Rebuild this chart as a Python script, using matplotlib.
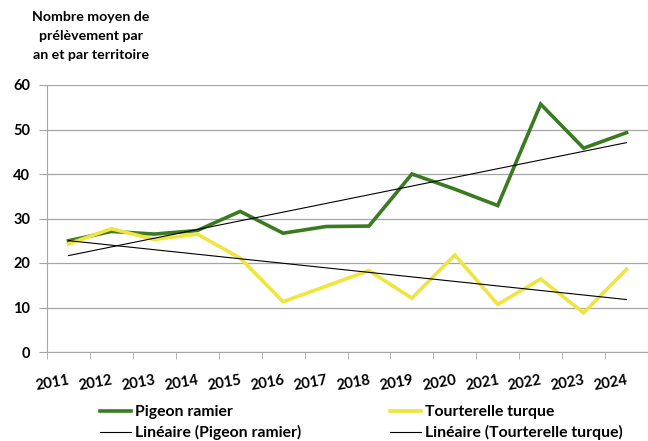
import matplotlib
matplotlib.use("Agg")
import matplotlib.pyplot as plt
import numpy as np
from matplotlib.lines import Line2D

plt.rcParams['font.family'] = ['Lato', 'DejaVu Sans']
plt.rcParams['font.weight'] = 'bold'

years = ['2011', '2012', '2013', '2014', '2015', '2016', '2017', '2018',
         '2019', '2020', '2021', '2022', '2023', '2024']
pigeon = [25.0, 27.1, 26.5, 27.3, 31.6, 26.7, 28.2, 28.3, 40.0, 36.6, 32.9, 55.7, 45.8, 49.3]
tourterelle = [24.3, 27.7, 25.3, 26.5, 21.1, 11.3, 14.8, 18.3, 12.1, 21.8, 10.7, 16.4, 8.8, 18.6]
y_ticks = [0, 10, 20, 30, 40, 50, 60]

green = '#3a7a20'
yellow = '#f0e43e'
grid_c = '#a6a6a6'

fig = plt.figure(figsize=(6.48, 4.41), dpi=100)
ax = fig.add_axes([47/648, 1-352/441, 601/648, (352-85)/441])

x = np.arange(len(years))
ax.plot(x, pigeon, color=green, lw=2.6, solid_joinstyle='miter')
ax.plot(x, tourterelle, color=yellow, lw=2.6, solid_joinstyle='miter')

for s in (pigeon, tourterelle):
    k, b = np.polyfit(x, s, 1)
    ax.plot(x, k*x + b, color='black', lw=0.8)

ax.set_xlim(-0.5, len(years) - 0.5)
ax.set_ylim(0, 60)
ax.set_yticks(y_ticks)
ax.set_yticklabels([str(v) for v in y_ticks], fontsize=10.5, fontweight='bold')
ax.yaxis.grid(True, color=grid_c, lw=0.9)
ax.set_axisbelow(True)

ax.set_xticks(x)
ax.set_xticklabels(years, rotation=10, rotation_mode='anchor', ha='right', va='top',
                   fontsize=10.6, fontweight='bold')
ax.tick_params(axis='x', which='major', length=0, pad=15)
ax.set_xticks(np.arange(-0.5, len(years)), minor=True)
ax.tick_params(axis='x', which='minor', length=5, color=grid_c, direction='out')
ax.tick_params(axis='y', length=6, color=grid_c, pad=6)

for side in ['top', 'right']:
    ax.spines[side].set_visible(False)
ax.spines['left'].set_color(grid_c)
ax.spines['bottom'].set_color(grid_c)

fig.text(91/648, 1-11/441, 'Nombre moyen de\nprélèvement par\nan et par territoire',
         ha='center', va='top', fontsize=10.2, fontweight='bold', linespacing=1.68)

h1 = [Line2D([], [], color=green, lw=2.6), Line2D([], [], color='black', lw=0.8)]
l1 = ['Pigeon ramier', 'Linéaire (Pigeon ramier)']
h2 = [Line2D([], [], color=yellow, lw=2.6), Line2D([], [], color='black', lw=0.8)]
l2 = ['Tourterelle turque', 'Linéaire (Tourterelle turque)']
kw = dict(frameon=False, fontsize=11.3, handlelength=2.0, handletextpad=0.2,
          labelspacing=0.4, borderaxespad=0, borderpad=0)
fig.legend(h1, l1, loc='upper left', bbox_to_anchor=(100/648, 1-405/441), **kw)
fig.legend(h2, l2, loc='upper left', bbox_to_anchor=(390/648, 1-405/441), **kw)

fig.savefig('out.png', dpi=100)
